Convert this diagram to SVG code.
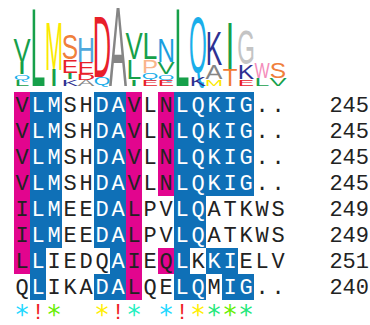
<svg xmlns="http://www.w3.org/2000/svg" width="370" height="325" viewBox="0 0 370 325">
<style>
.lg{font-family:"Liberation Sans",Arial,sans-serif;font-size:10px;text-anchor:middle}
.g{fill:#16a04a}.q{fill:#1aaeea}.y{fill:#fbe900}.o{fill:#f07f3c}.r{fill:#e8202a}.k{fill:#2e3192}
.h{fill:#4fa8dc}.a{fill:#858585}.p{fill:#f9b48a}.n{fill:#1a9ee0}.t{fill:#f27b34}.gr{fill:#c4c4c4}.w{fill:#f48cba}
.mg{fill:#e2058e}.bl{fill:#0f70b7}
.seq{font-family:"Liberation Mono","Courier New",monospace;font-size:22px;fill:#222;text-anchor:middle}
.wt{fill:#fff}
.num{font-family:"Liberation Mono","Courier New",monospace;font-size:22px;fill:#222;text-anchor:end}
.cs{font-family:"Liberation Mono","Courier New",monospace;font-size:22px;text-anchor:middle}
.st{font-family:"DejaVu Sans Mono",monospace;font-size:26px;text-anchor:middle}
</style>
<rect width="370" height="325" fill="#fff"/>
<g id="logo" class="lg">
<text class="g" transform="translate(22,62) scale(2.576,3.352)">V</text>
<text class="g" transform="translate(22,74) scale(3.2,1.676)">I</text>
<text class="q" transform="translate(22,79.57) scale(2.14,0.765)">Q</text>
<text class="g" transform="translate(22,86) scale(2.667,0.838)">L</text>
<text class="g" transform="translate(38,86) scale(2.667,11.17)">L</text>
<text class="y" transform="translate(54,69.5) scale(2.174,6.913)">M</text>
<text class="g" transform="translate(54,86) scale(3.2,2.304)">I</text>
<text class="o" transform="translate(70,59.07) scale(2.456,3.581)">S</text>
<text class="r" transform="translate(70,72.75) scale(2.453,1.851)">E</text>
<text class="g" transform="translate(70,79.4) scale(3.2,0.929)">I</text>
<text class="k" transform="translate(70,86) scale(2.459,0.922)">K</text>
<text class="h" transform="translate(86,61.5) scale(2.5,3.422)">H</text>
<text class="r" transform="translate(86,73.75) scale(2.453,1.711)">E</text>
<text class="r" transform="translate(86,79.9) scale(2.542,0.859)">D</text>
<text class="a" transform="translate(86,86) scale(2.537,0.852)">A</text>
<text class="r" transform="translate(102,77.1) scale(2.542,8.673)">D</text>
<text class="q" transform="translate(102,85.36) scale(2.14,1.135)">Q</text>
<text class="a" transform="translate(118,86) scale(2.7,11.31)">A</text>
<text class="g" transform="translate(134,59) scale(2.576,3.771)">V</text>
<text class="g" transform="translate(134,79.25) scale(2.667,2.828)">L</text>
<text class="g" transform="translate(134,86) scale(3.2,0.943)">I</text>
<text class="g" transform="translate(150,59) scale(2.667,3.771)">L</text>
<text class="p" transform="translate(150,72.5) scale(2.407,1.885)">P</text>
<text class="q" transform="translate(150,78.77) scale(2.14,0.861)">Q</text>
<text class="r" transform="translate(150,86) scale(2.453,0.943)">E</text>
<text class="n" transform="translate(166,62) scale(2.456,3.352)">N</text>
<text class="g" transform="translate(166,74) scale(2.576,1.676)">V</text>
<text class="q" transform="translate(166,79.57) scale(2.14,0.765)">Q</text>
<text class="r" transform="translate(166,86) scale(2.453,0.838)">E</text>
<text class="g" transform="translate(182,86) scale(2.667,11.17)">L</text>
<text class="q" transform="translate(198,72.66) scale(2.286,7.921)">Q</text>
<text class="k" transform="translate(198,86) scale(2.459,1.243)">K</text>
<text class="k" transform="translate(214,65) scale(2.459,4.888)">K</text>
<text class="a" transform="translate(214,79) scale(2.537,1.955)">A</text>
<text class="y" transform="translate(214,86) scale(2.174,0.978)">M</text>
<text class="g" transform="translate(230,69.5) scale(3.2,6.913)">I</text>
<text class="t" transform="translate(230,86) scale(2.414,2.304)">T</text>
<text class="gr" transform="translate(246,64.43) scale(2.273,4.73)">G</text>
<text class="k" transform="translate(246,79) scale(2.459,1.955)">K</text>
<text class="r" transform="translate(246,86) scale(2.453,0.978)">E</text>
<text class="w" transform="translate(262,78) scale(1.613,2.235)">W</text>
<text class="g" transform="translate(262,86) scale(2.667,1.117)">L</text>
<text class="o" transform="translate(278,77.74) scale(2.456,2.162)">S</text>
<text class="g" transform="translate(278,86) scale(2.576,1.117)">V</text>
</g>
<g id="shading">
<rect class="mg" x="14" y="92" width="16" height="182"/>
<rect class="mg" x="126" y="92" width="16" height="208"/>
<rect class="mg" x="158" y="92" width="16" height="104"/>
<rect class="mg" x="158" y="248" width="16" height="26"/>
<rect class="bl" x="30" y="92" width="16" height="208"/>
<rect class="bl" x="46" y="92" width="16" height="156"/>
<rect class="bl" x="94" y="92" width="16" height="156"/>
<rect class="bl" x="94" y="274" width="16" height="26"/>
<rect class="bl" x="110" y="92" width="16" height="208"/>
<rect class="bl" x="174" y="92" width="16" height="208"/>
<rect class="bl" x="190" y="92" width="16" height="156"/>
<rect class="bl" x="190" y="274" width="16" height="26"/>
<rect class="bl" x="206" y="92" width="16" height="104"/>
<rect class="bl" x="206" y="248" width="16" height="26"/>
<rect class="bl" x="222" y="92" width="16" height="104"/>
<rect class="bl" x="222" y="248" width="16" height="52"/>
<rect class="bl" x="238" y="92" width="16" height="104"/>
<rect class="bl" x="238" y="274" width="16" height="26"/>
</g>
<g id="sequences" class="seq">
<text y="111.5" x="22 38 54 70 86 102 118 134 150 166 182 198 214 230 246 262 278">V<tspan class="wt">LM</tspan>SH<tspan class="wt">DA</tspan>VLN<tspan class="wt">LQKIG</tspan>..</text>
<text y="137.5" x="22 38 54 70 86 102 118 134 150 166 182 198 214 230 246 262 278">V<tspan class="wt">LM</tspan>SH<tspan class="wt">DA</tspan>VLN<tspan class="wt">LQKIG</tspan>..</text>
<text y="163.5" x="22 38 54 70 86 102 118 134 150 166 182 198 214 230 246 262 278">V<tspan class="wt">LM</tspan>SH<tspan class="wt">DA</tspan>VLN<tspan class="wt">LQKIG</tspan>..</text>
<text y="189.5" x="22 38 54 70 86 102 118 134 150 166 182 198 214 230 246 262 278">V<tspan class="wt">LM</tspan>SH<tspan class="wt">DA</tspan>VLN<tspan class="wt">LQKIG</tspan>..</text>
<text y="215.5" x="22 38 54 70 86 102 118 134 150 166 182 198 214 230 246 262 278">I<tspan class="wt">LM</tspan>EE<tspan class="wt">DA</tspan>LPV<tspan class="wt">LQ</tspan>ATKWS</text>
<text y="241.5" x="22 38 54 70 86 102 118 134 150 166 182 198 214 230 246 262 278">I<tspan class="wt">LM</tspan>EE<tspan class="wt">DA</tspan>LPV<tspan class="wt">LQ</tspan>ATKWS</text>
<text y="267.5" x="22 38 54 70 86 102 118 134 150 166 182 198 214 230 246 262 278">L<tspan class="wt">L</tspan>IEDQ<tspan class="wt">A</tspan>IEQ<tspan class="wt">L</tspan>K<tspan class="wt">KI</tspan>ELV</text>
<text y="293.5" x="22 38 54 70 86 102 118 134 150 166 182 198 214 230 246 262 278">Q<tspan class="wt">L</tspan>IKA<tspan class="wt">DA</tspan>LQE<tspan class="wt">LQ</tspan>M<tspan class="wt">IG</tspan>..</text>
</g>
<g id="numbers" class="num">
<text x="369" y="111.5">245</text>
<text x="369" y="137.5">245</text>
<text x="369" y="163.5">245</text>
<text x="369" y="189.5">245</text>
<text x="369" y="215.5">249</text>
<text x="369" y="241.5">249</text>
<text x="369" y="267.5">251</text>
<text x="369" y="293.5">240</text>
</g>
<g id="consensus">
<g class="st">
<text x="22" y="324" fill="#1ed8ff">*</text>
<text x="54" y="324" fill="#66ee00">*</text>
<text x="102" y="324" fill="#ffee00">*</text>
<text x="134" y="324" fill="#22f0c0">*</text>
<text x="166" y="324" fill="#1ed8ff">*</text>
<text x="198" y="324" fill="#ffee00">*</text>
<text x="214" y="324" fill="#22e87a">*</text>
<text x="230" y="324" fill="#66ee00">*</text>
<text x="246" y="324" fill="#22e87a">*</text>
</g>
<g class="cs">
<text x="38" y="318.5" fill="#f01c24">!</text>
<text x="118" y="318.5" fill="#f01c24">!</text>
<text x="182" y="318.5" fill="#f01c24">!</text>
</g>
</g>
</svg>
